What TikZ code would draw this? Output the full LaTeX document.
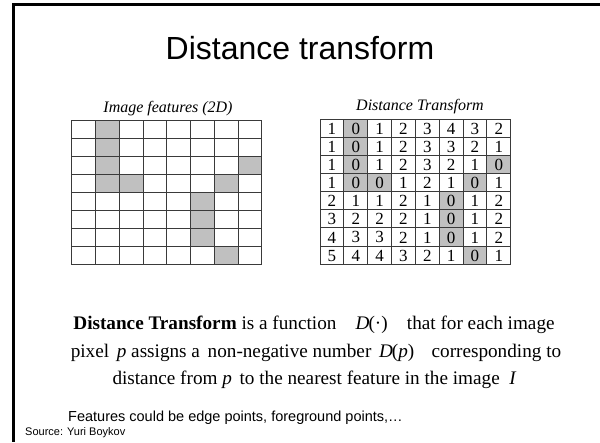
\documentclass[tikz,border=0pt]{standalone}
\usepackage{fontspec}
\setmainfont{Liberation Serif}
\newfontfamily\arialfont{Liberation Sans}
\definecolor{cellgray}{HTML}{C0C0C0}
\definecolor{gridline}{HTML}{3A3A3A}
\tikzset{
  gridpen/.style={draw=gridline, line width=0.9pt},
  framepen/.style={draw=black, line width=2.8pt},
  numtext/.style={inner sep=0pt, font=\fontsize{17}{17}\selectfont},
  captext/.style={inner sep=0pt, font=\itshape\fontsize{16}{16}\selectfont},
  bodytext/.style={inner sep=0pt, font=\fontsize{19.2}{19.2}\selectfont},
}
\begin{document}
\begin{tikzpicture}[x=1pt,y=-1pt]
\useasboundingbox (0,0) rectangle (600,442);
\fill[white] (0,0) rectangle (600,442);
% slide frame
\draw[framepen] (12,4.7) -- (600,4.7);
\draw[framepen] (13.5,3.3) -- (13.5,442);
% title
\node[inner sep=0pt, font=\arialfont\fontsize{32}{32}\selectfont] (title) at (300,48) {Distance transform};
% left grid
\node[captext] (capL) at (168,109) {Image features (2D)};
\foreach \c/\r in {1/0,1/1,1/2,7/2,1/3,2/3,6/3,5/4,5/5,5/6,6/7}
  \fill[cellgray] ({71.7+\c*23.75},{120+\r*18.1}) rectangle ++(23.75,18.1);
\foreach \i in {0,...,8}{
  \draw[gridpen] ({71.7+\i*23.75},120) -- ++(0,144.8);
  \draw[gridpen] (71.7,{120+\i*18.1}) -- ++(190,0);
}
% right grid
\node[captext] (capR) at (420,107) {Distance Transform};
\foreach \c/\r in {1/0,1/1,1/2,7/2,1/3,2/3,6/3,5/4,5/5,5/6,6/7}
  \fill[cellgray] ({320+\c*23.84},{119.3+\r*18.1}) rectangle ++(23.84,18.1);
\foreach \i in {0,...,8}{
  \draw[gridpen] ({320+\i*23.84},119.3) -- ++(0,144.8);
  \draw[gridpen] (320,{119.3+\i*18.1}) -- ++(190.7,0);
}
\foreach \row [count=\r from 0] in {{1,0,1,2,3,4,3,2},{1,0,1,2,3,3,2,1},{1,0,1,2,3,2,1,0},{1,0,0,1,2,1,0,1},{2,1,1,2,1,0,1,2},{3,2,2,2,1,0,1,2},{4,3,3,2,1,0,1,2},{5,4,4,3,2,1,0,1}}{
  \foreach \v [count=\c from 0] in \row
    \node[numtext] (n-\r-\c) at ({320+(\c+0.5)*23.84},{119.3+(\r+0.5)*18.1+0.5}) {\v};
}
% body text
\node[bodytext] (l1) at (314,325) {\textbf{Distance Transform} is a function\hspace{1em}\textit{D}\kern-0.05em(\textperiodcentered)\hspace{1em}that for each image};
\node[bodytext] (l2) at (316,353) {pixel\hspace{0.4em}\textit{p} assigns a\hspace{0.4em}non-negative number\hspace{0.4em}\textit{D}\kern-0.05em(\textit{p})\hspace{0.9em}corresponding to};
\node[bodytext] (l3) at (314.5,380) {distance from \textit{p}\hspace{0.4em}to the nearest feature in the image\hspace{0.5em}\textit{I}};
\node[inner sep=0pt, anchor=west, font=\arialfont\fontsize{14.5}{14.5}\selectfont] (feat) at (68,418) {Features could be edge points, foreground points,\ldots};
\node[inner sep=0pt, anchor=west, font=\arialfont\fontsize{11}{11}\selectfont] (src) at (25,433) {Source: Yuri Boykov};
\end{tikzpicture}
\end{document}
